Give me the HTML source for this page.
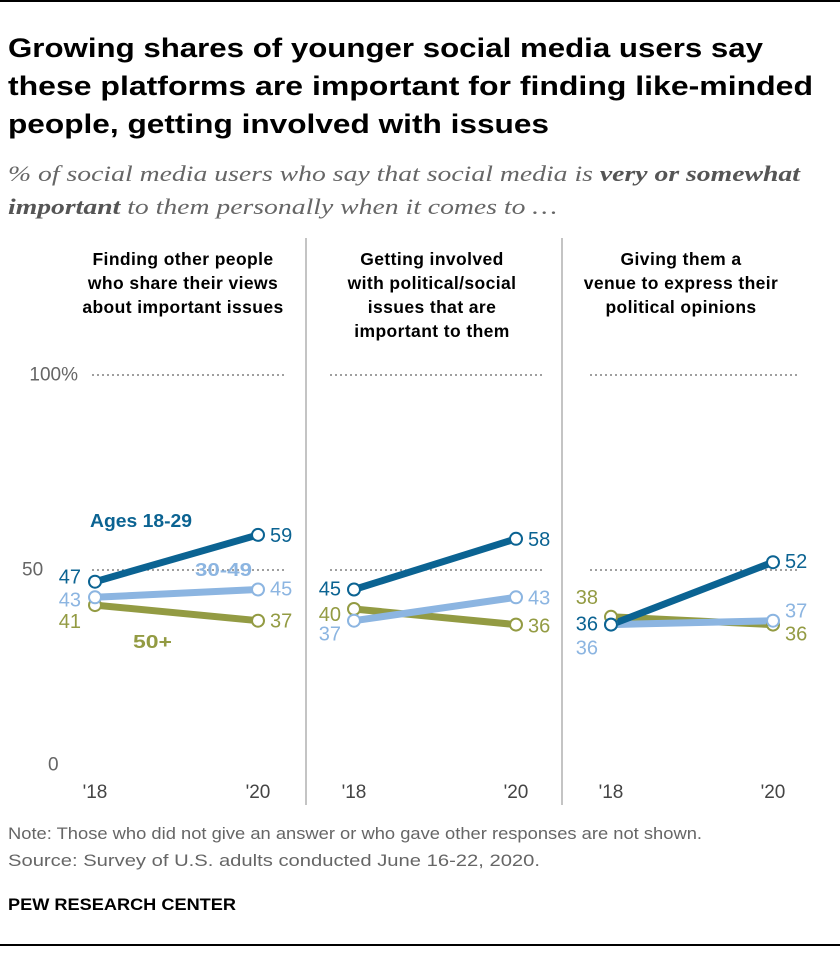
<!DOCTYPE html>
<html><head><meta charset="utf-8"><style>
body{margin:0;background:#fff;width:840px;height:948px;overflow:hidden;font-family:"Liberation Sans",sans-serif}
</style></head><body>
<svg id="c" width="840" height="948" xmlns="http://www.w3.org/2000/svg">
<rect x="0" y="0" width="840" height="2" fill="#000"/>
<g font-family="Liberation Sans, sans-serif" font-weight="bold" font-size="27" fill="#000">
<text x="8" y="57" textLength="755" lengthAdjust="spacingAndGlyphs">Growing shares of younger social media users say</text>
<text x="8" y="95" textLength="805" lengthAdjust="spacingAndGlyphs">these platforms are important for finding like-minded</text>
<text x="8" y="133" textLength="541" lengthAdjust="spacingAndGlyphs">people, getting involved with issues</text>
</g>
<g font-family="Liberation Serif, serif" font-style="italic" font-size="22" fill="#666">
<text x="8" y="181" textLength="792" lengthAdjust="spacingAndGlyphs">% of social media users who say that social media is <tspan font-weight="bold" fill="#555">very or somewhat</tspan></text>
<text x="8" y="214" textLength="549" lengthAdjust="spacingAndGlyphs"><tspan font-weight="bold" fill="#555">important</tspan> to them personally when it comes to …</text>
</g>
<g id="plot"></g>
<g font-size="16.5" fill="#666">
<text x="8" y="839" textLength="694" lengthAdjust="spacingAndGlyphs">Note: Those who did not give an answer or who gave other responses are not shown.</text>
<text x="8" y="866" textLength="532" lengthAdjust="spacingAndGlyphs">Source: Survey of U.S. adults conducted June 16-22, 2020.</text>
</g>
<text x="8" y="910" font-size="17" font-weight="bold" fill="#000" textLength="228" lengthAdjust="spacingAndGlyphs">PEW RESEARCH CENTER</text>
<rect x="0" y="944" width="840" height="2" fill="#000"/>
</svg>
<script>
const years=["'18","'20"];
const panelTitles=[["Finding other people","who share their views","about important issues"],["Getting involved","with political/social","issues that are","important to them"],["Giving them a","venue to express their","political opinions"]];
const seriesNames=["Ages 18-29","30-49","50+"];
const young=[[47,59],[45,58],[36,52]];
const mid=[[43,45],[37,43],[36,37]];
const old=[[41,37],[40,36],[38,36]];
const yTicks=[0,50,100];
const yTickLabels=["0","50","100%"];

const colors=["#0b6392","#8cb5e1","#939b43"];
const series=[young,mid,old];
const panels=[{x0:95,x1:258,g0:92,g1:285,lx:81,cx:183},{x0:354,x1:516,g0:330,g1:545,lx:341,cx:432},{x0:611,x1:773,g0:590,g1:800,lx:598,cx:681}];
const y=v=>765-v*3.9;
const NS="http://www.w3.org/2000/svg";
const plot=document.getElementById('plot');
function mk(tag,attrs,parent){const e=document.createElementNS(NS,tag);for(const k in attrs)e.setAttribute(k,attrs[k]);(parent||plot).appendChild(e);return e;}
// label offsets (layout only) [panel][series]
const leftOff=[[-4,3,17],[0,14,6],[0,24,-19]];
const rightOff=[[1,0,1],[1,1,2],[0,-9,10]];
const tickX=[48,22,78];
[306,562].forEach(x=>{const d=mk('line',{x1:x,x2:x,y1:238,y2:805,stroke:'#888','stroke-width':1});});
yTicks.forEach((t,i)=>{const e=mk('text',{x:tickX[i],y:y(t),'dominant-baseline':'central','font-size':19,fill:'#666','text-anchor':i==2?'end':'start'});e.textContent=yTickLabels[i];});
panels.forEach((p,pi)=>{
  const t=mk('text',{x:p.cx,y:0,'font-size':17.5,'font-weight':'bold',fill:'#000','text-anchor':'middle','letter-spacing':0.4});
  
  
  panelTitles[pi].forEach((l,li)=>{const s=document.createElementNS(NS,'tspan');s.setAttribute('x',p.cx);s.setAttribute('y',265+li*24);s.textContent=l;t.appendChild(s);});
  [50,100].forEach(v=>{const g=mk('line',{x1:p.g0,x2:p.g1,y1:y(v),y2:y(v),stroke:'#666','stroke-width':1.3,'stroke-dasharray':'2,3'});});
  years.forEach((yr,i)=>{const e=mk('text',{x:i?p.x1:p.x0,y:798,'font-size':19,fill:'#444','text-anchor':'middle'});e.textContent=yr;});
  for(let s=2;s>=0;s--){
    const d=series[s][pi];
    const ln=mk('line',{x1:p.x0,x2:p.x1,y1:y(d[0]),y2:y(d[1]),stroke:colors[s],'stroke-width':7});
    
    
  }
  for(let s=2;s>=0;s--){
    const d=series[s][pi];
    d.forEach((v,i)=>{
      const c=mk('circle',{cx:i?p.x1:p.x0,cy:y(v),r:6,fill:'#fff',stroke:colors[s],'stroke-width':2});
      
      
      const tx=mk('text',{x:i?p.x1+12:p.lx,y:y(v)+(i?rightOff[pi][s]:leftOff[pi][s]),'dominant-baseline':'central','font-size':20,fill:colors[s],'text-anchor':i?'start':'end'});
      tx.textContent=v;
      
      
    });
  }
});
const sl=[[90,521,102],[195,570,57],[133,642,39]];
seriesNames.forEach((n,i)=>{const e=mk('text',{x:sl[i][0],y:sl[i][1],'dominant-baseline':'central','font-size':18,'font-weight':'bold',fill:colors[i],textLength:sl[i][2],lengthAdjust:'spacingAndGlyphs'});e.textContent=n;});
</script>
</body></html>
